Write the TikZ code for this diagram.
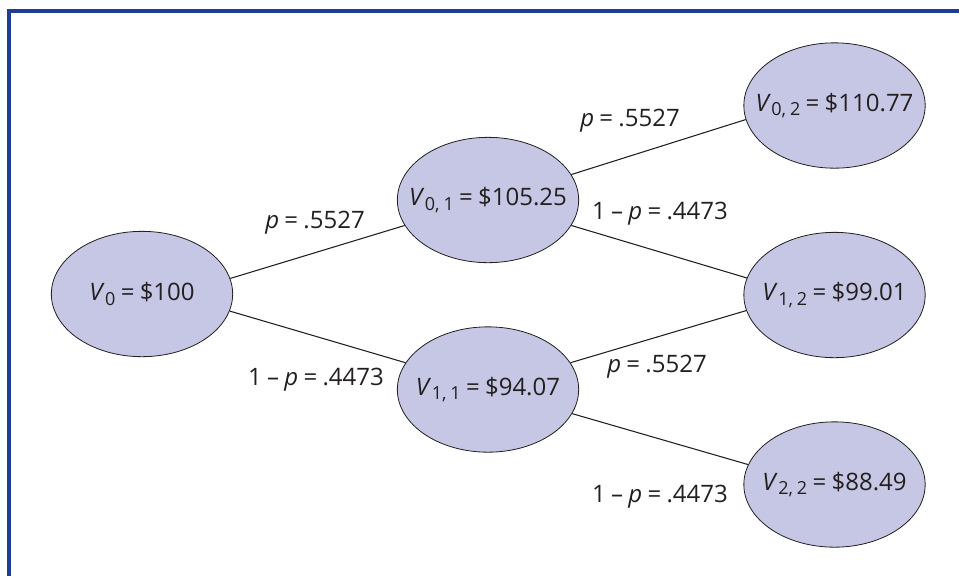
\documentclass[tikz,border=0pt]{standalone}
\usepackage{fontspec}
\setmainfont{Open Sans}[WordSpace={0.85,0,0}]
\usetikzlibrary{shapes.geometric}
\definecolor{frameblue}{RGB}{31,61,150}
\definecolor{nodefill}{RGB}{197,199,228}
\definecolor{inkgray}{RGB}{35,31,32}
\newcommand{\Vsub}[1]{\textit{V}\kern0.02em\raisebox{-0.32ex}{\fontsize{13.5}{15}\selectfont #1}}
\begin{document}
\begin{tikzpicture}[x=0.75pt,y=-0.75pt,
  valnode/.style={ellipse,draw=inkgray,line width=0.6pt,fill=nodefill,
    minimum width=136pt,minimum height=94pt,inner sep=0pt,
    font=\fontsize{18}{21}\selectfont,text=inkgray},
  prob/.style={font=\fontsize{18}{21}\selectfont,text=inkgray,inner sep=0pt},
  branch/.style={draw=inkgray,line width=0.8pt}]
\useasboundingbox (0,0) rectangle (959,576);
\draw[frameblue,line width=2.3pt] (9,576) -- (9,11) -- (959,11);
\node[valnode] (v0)  at (142,294)   {\makebox[0pt]{\Vsub{0} = \$100}};
\node[valnode] (v01) at (488,200)   {\makebox[0pt]{\Vsub{0, 1} = \$105.25}};
\node[valnode] (v11) at (488,389.5) {\makebox[0pt]{\Vsub{1, 1} = \$94.07}};
\node[valnode] (v02) at (834.5,105.5) {\makebox[0pt]{\Vsub{0, 2} = \$110.77}};
\node[valnode] (v12) at (834.5,295) {\makebox[0pt]{\Vsub{1, 2} = \$99.01}};
\node[valnode] (v22) at (834.5,484.5) {\makebox[0pt]{\Vsub{2, 2} = \$88.49}};
\draw[branch] (v0.10) -- (v01.197);
\draw[branch] (v0.349) -- (v11.162);
\draw[branch] (v01.17.6) -- (v02.189);
\draw[branch] (v01.343) -- (v12.169);
\draw[branch] (v11.18) -- (v12.190);
\draw[branch] (v11.344.5) -- (v22.167.5);
\node[prob] (pa) at (315,223) {\textit{p} = .5527};
\node[prob] (pb) at (316,380) {1 – \textit{p} = .4473};
\node[prob] (pc) at (630,121) {\textit{p} = .5527};
\node[prob] (pd) at (660,214) {1 – \textit{p} = .4473};
\node[prob] (pe) at (657,367) {\textit{p} = .5527};
\node[prob] (pf) at (660,497) {1 – \textit{p} = .4473};
\end{tikzpicture}
\end{document}
